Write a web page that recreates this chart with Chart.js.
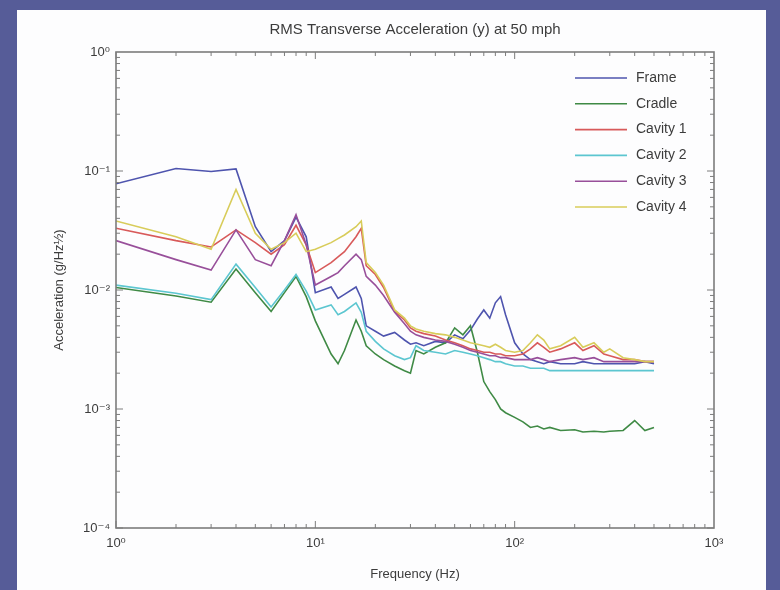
<!DOCTYPE html>
<html>
<head>
<meta charset="utf-8">
<script src="https://cdn.jsdelivr.net/npm/chart.js@4.4.1/dist/chart.umd.min.js"></script>
<style>
  html, body { margin: 0; padding: 0; background: #565c98; }
  #wrap { width: 780px; height: 590px; }
</style>
</head>
<body>
<div id="wrap"><canvas id="rmsChart" width="780" height="590"></canvas></div>
<script>
// frequency grid (Hz), shared by all series
const freq = [1, 2, 3, 4, 5, 6, 7, 8, 9, 10,
              12, 13, 14, 16, 17, 18, 20, 22, 25, 28,
              30, 32, 35, 40, 45, 50, 55, 60, 65, 70,
              75, 80, 85, 90, 100, 110, 120, 130, 140, 150,
              170, 200, 220, 250, 280, 300, 350, 400, 450, 500];

const frame = [0.078, 0.105, 0.099, 0.104, 0.034, 0.021, 0.026, 0.041, 0.028, 0.0095,
               0.0106, 0.0085, 0.0092, 0.0106, 0.0085, 0.005, 0.0045, 0.0041, 0.0044, 0.0038,
               0.0035, 0.0036, 0.0034, 0.0037, 0.0036, 0.0042, 0.0039, 0.0046, 0.0057, 0.0068,
               0.0058, 0.0078, 0.0088, 0.0062, 0.0036, 0.0029, 0.0026, 0.0025, 0.0024, 0.0025,
               0.0024, 0.0024, 0.0025, 0.0024, 0.0024, 0.0024, 0.0024, 0.0024, 0.0025, 0.0024];

const cradle = [0.0105, 0.0089, 0.0079, 0.015, 0.0095, 0.0066, 0.0095, 0.013, 0.0088, 0.0055,
                0.0029, 0.0024, 0.0031, 0.0056, 0.0045, 0.0034, 0.0029, 0.0026, 0.0023, 0.0021,
                0.0020, 0.0031, 0.0029, 0.0033, 0.0036, 0.0048, 0.0042, 0.0050, 0.0030, 0.0017,
                0.0014, 0.0012, 0.0010, 0.00093, 0.00085, 0.00078, 0.0007, 0.00072, 0.00068, 0.0007,
                0.00066, 0.00067, 0.00064, 0.00065, 0.00064, 0.00065, 0.00066, 0.0008, 0.00066, 0.0007];

const cavity1 = [0.033, 0.026, 0.023, 0.032, 0.025, 0.020, 0.024, 0.035, 0.024, 0.014,
                 0.017, 0.019, 0.021, 0.028, 0.033, 0.016, 0.0135, 0.0105, 0.0066, 0.0056,
                 0.0048, 0.0045, 0.0043, 0.0041, 0.0038, 0.0036, 0.0034, 0.0032, 0.0031, 0.0030,
                 0.0030, 0.0029, 0.0029, 0.0028, 0.0028, 0.0029, 0.0032, 0.0036, 0.0033, 0.0030,
                 0.0032, 0.0036, 0.0031, 0.0034, 0.0029, 0.0028, 0.0026, 0.0026, 0.0025, 0.0025];

const cavity2 = [0.011, 0.0094, 0.0083, 0.0165, 0.0105, 0.0072, 0.010, 0.0135, 0.0098, 0.0068,
                 0.0075, 0.0062, 0.0066, 0.0078, 0.0065, 0.0045, 0.0037, 0.0032, 0.0028, 0.0026,
                 0.0027, 0.0034, 0.0031, 0.0030, 0.0029, 0.0031, 0.0030, 0.0029, 0.0028, 0.0027,
                 0.0026, 0.0025, 0.0025, 0.0024, 0.0023, 0.0023, 0.0022, 0.0022, 0.0022, 0.0021,
                 0.0021, 0.0021, 0.0021, 0.0021, 0.0021, 0.0021, 0.0021, 0.0021, 0.0021, 0.0021];

const cavity3 = [0.026, 0.018, 0.0147, 0.032, 0.018, 0.016, 0.026, 0.043, 0.024, 0.011,
                 0.013, 0.014, 0.016, 0.020, 0.018, 0.013, 0.011, 0.009, 0.0065, 0.0052,
                 0.0045, 0.0042, 0.0040, 0.0038, 0.0037, 0.0035, 0.0033, 0.0031, 0.0030, 0.0029,
                 0.0028, 0.0028, 0.0027, 0.0027, 0.0026, 0.0026, 0.0026, 0.0027, 0.0026, 0.0025,
                 0.0026, 0.0027, 0.0026, 0.0027, 0.0025, 0.0025, 0.0025, 0.0025, 0.0025, 0.0025];

const cavity4 = [0.038, 0.028, 0.022, 0.070, 0.030, 0.022, 0.025, 0.030, 0.021, 0.022,
                 0.025, 0.027, 0.029, 0.034, 0.038, 0.017, 0.014, 0.011, 0.0068, 0.0058,
                 0.0050, 0.0047, 0.0045, 0.0043, 0.0042, 0.0040, 0.0038, 0.0036, 0.0035, 0.0034,
                 0.0033, 0.0035, 0.0033, 0.0031, 0.0030, 0.0031, 0.0036, 0.0042, 0.0038, 0.0032,
                 0.0034, 0.0040, 0.0033, 0.0036, 0.0030, 0.0032, 0.0027, 0.0026, 0.0025, 0.0025];

const seriesNames = ['Frame', 'Cradle', 'Cavity 1', 'Cavity 2', 'Cavity 3', 'Cavity 4'];
const seriesValues = [frame, cradle, cavity1, cavity2, cavity3, cavity4];
const seriesColors = ['#4e54ae', '#3f8a45', '#d85a5a', '#5cc6d0', '#984f9a', '#d8cc5a'];

const xTicks = [1, 10, 100, 1000];
const yTicks = [1e-4, 1e-3, 1e-2, 1e-1, 1];

const textColor = '#3c3c3c';
const fontFam = "'Liberation Sans', Arial, 'DejaVu Sans', sans-serif";

const supMap = { '0': '\u2070', '1': '\u00b9', '2': '\u00b2', '3': '\u00b3', '4': '\u2074', '-': '\u207b' };
function powLabel(v) {
    const e = Math.round(Math.log10(v));
    return '10' + String(e).split('').map(c => supMap[c]).join('');
}

// box, inward ticks, title and legend in the matlab look
const matlabFrame = {
    id: 'matlabFrame',
    beforeDraw(chart) {
        const ctx = chart.ctx;
        ctx.save();
        ctx.fillStyle = '#fdfdfe';
        ctx.fillRect(17, 10, 749, 580);
        ctx.restore();
    },
    afterDraw(chart) {
        const ctx = chart.ctx;
        const a = chart.chartArea;
        const xs = chart.scales.x, ys = chart.scales.y;
        ctx.save();
        ctx.strokeStyle = '#7c7c7c';
        ctx.lineWidth = 1.6;
        ctx.strokeRect(a.left, a.top, a.right - a.left, a.bottom - a.top);

        ctx.lineWidth = 1;
        ctx.beginPath();
        for (let k = 0; k < 3; k++) {
            for (let m = 1; m <= 9; m++) {
                const px = xs.getPixelForValue(m * Math.pow(10, k));
                const len = m === 1 ? 7 : 4;
                ctx.moveTo(px, a.bottom); ctx.lineTo(px, a.bottom - len);
                ctx.moveTo(px, a.top); ctx.lineTo(px, a.top + len);
            }
        }
        for (let k = -4; k < 0; k++) {
            for (let m = 1; m <= 9; m++) {
                const py = ys.getPixelForValue(m * Math.pow(10, k));
                const len = m === 1 ? 7 : 4;
                ctx.moveTo(a.left, py); ctx.lineTo(a.left + len, py);
                ctx.moveTo(a.right, py); ctx.lineTo(a.right - len, py);
            }
        }
        ctx.stroke();

        // title
        ctx.fillStyle = textColor;
        ctx.font = '15px ' + fontFam;
        ctx.textAlign = 'center';
        ctx.textBaseline = 'middle';
        ctx.fillText('RMS Transverse Acceleration (y) at 50 mph', (a.left + a.right) / 2, 30);

        // legend
        ctx.font = '14px ' + fontFam;
        ctx.textAlign = 'left';
        chart.data.datasets.forEach((ds, i) => {
            const ly = 78 + i * 25.8;
            ctx.strokeStyle = ds.borderColor;
            ctx.lineWidth = 1.6;
            ctx.beginPath();
            ctx.moveTo(575, ly); ctx.lineTo(627, ly);
            ctx.stroke();
            ctx.fillStyle = textColor;
            ctx.fillText(ds.label, 636, ly);
        });
        ctx.restore();
    }
};

new Chart(document.getElementById('rmsChart'), {
    type: 'line',
    data: {
        datasets: seriesNames.map((name, i) => ({
            label: name,
            data: freq.map((f, j) => ({ x: f, y: seriesValues[i][j] })),
            borderColor: seriesColors[i],
            backgroundColor: seriesColors[i],
            borderWidth: 1.6,
            pointRadius: 0,
            fill: false,
            tension: 0,
            order: seriesNames.length - i
        }))
    },
    options: {
        responsive: false,
        animation: false,
        layout: { padding: { left: 52, top: 52, right: 66, bottom: 8 } },
        plugins: {
            legend: { display: false },
            tooltip: { enabled: false }
        },
        scales: {
            x: {
                type: 'logarithmic',
                min: 1,
                max: 1000,
                grid: { display: false, drawTicks: false },
                border: { display: false },
                afterBuildTicks: s => { s.ticks = xTicks.map(v => ({ value: v })); },
                afterFit: s => { s.height = 54; },
                ticks: {
                    color: textColor,
                    font: { family: fontFam, size: 13 },
                    padding: 8,
                    maxRotation: 0,
                    autoSkip: false,
                    callback: v => powLabel(v)
                },
                title: {
                    display: true,
                    text: 'Frequency (Hz)',
                    color: textColor,
                    font: { family: fontFam, size: 13 },
                    padding: { top: 0, bottom: 0 }
                }
            },
            y: {
                type: 'logarithmic',
                min: 1e-4,
                max: 1,
                grid: { display: false, drawTicks: false },
                border: { display: false },
                afterBuildTicks: s => { s.ticks = yTicks.map(v => ({ value: v })); },
                afterFit: s => { s.width = 64; },
                ticks: {
                    color: textColor,
                    font: { family: fontFam, size: 13 },
                    padding: 6,
                    autoSkip: false,
                    callback: v => powLabel(v)
                },
                title: {
                    display: true,
                    text: 'Acceleration (g/Hz\u00bd)',
                    color: textColor,
                    font: { family: fontFam, size: 13 },
                    padding: { top: 0, bottom: 0 }
                }
            }
        }
    },
    plugins: [matlabFrame]
});
</script>
</body>
</html>
